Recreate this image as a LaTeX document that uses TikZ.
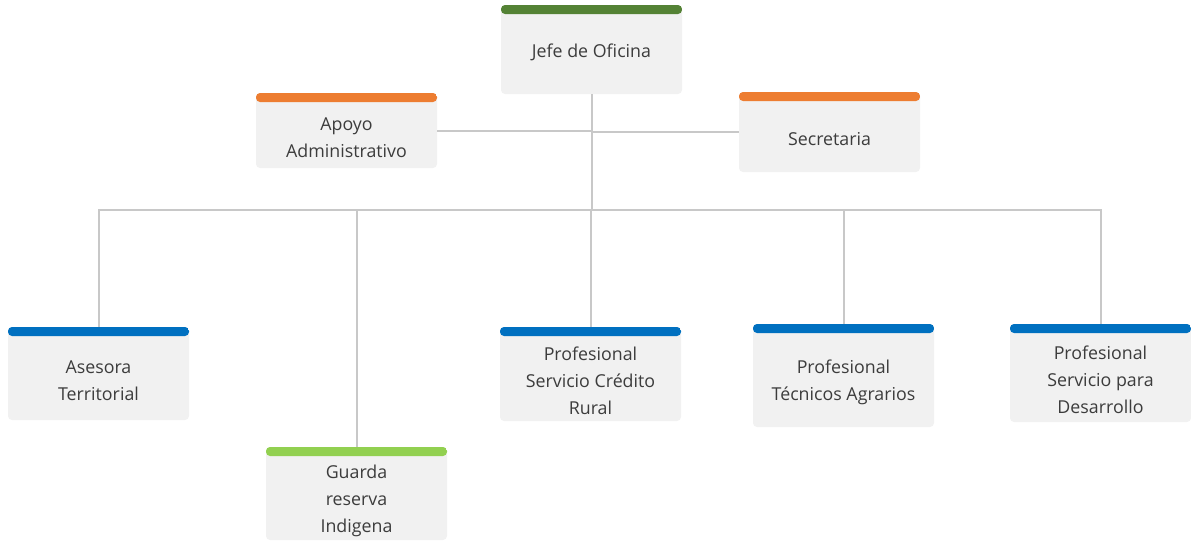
\documentclass[tikz,border=0pt]{standalone}
\usepackage{fontspec}
\setmainfont{Open Sans}
\definecolor{boxfill}{HTML}{F1F1F1}
\definecolor{linkgray}{HTML}{C8C8C8}
\definecolor{txtgray}{HTML}{3C3C3C}
\definecolor{topgreen}{HTML}{548235}
\definecolor{orangebar}{HTML}{ED7D31}
\definecolor{bluebar}{HTML}{0070C0}
\definecolor{limebar}{HTML}{92D050}
\tikzset{
  orgbox/.style 2 args={
    draw=none, fill=boxfill, rounded corners=4pt, inner sep=0pt,
    minimum width=#1, minimum height=#2
  },
  bar/.style={
    path picture={\fill[#1] (path picture bounding box.north west)
      rectangle ([yshift=-9pt]path picture bounding box.north east);}
  },
  orgtext/.style={
    align=center, text=txtgray, inner sep=0pt,
    font=\fontsize{17.8}{27}\selectfont
  },
  link/.style={draw=linkgray, line width=2pt}
}
% one box: [text drop], name, left, top, right, bottom, bar colour, text
\newcommand{\orgunit}[8][-7pt]{%
  \node[orgbox={(#5-#3)*1pt}{(#6-#4)*1pt}, bar=#7] (#2)
    at ({(#3+#5)/2},{(#4+#6)/2}) {};
  \node[orgtext] (#2-t) at ([yshift=#1]#2.center) {#8};
}
\begin{document}
\begin{tikzpicture}[x=1pt,y=-1pt]
\useasboundingbox (0,0) rectangle (1191,541);

\orgunit[-3pt]{jefe}{501}{5}{682}{94}{topgreen}{Jefe de Oficina}
\orgunit{apoyo}{256}{93}{437}{168}{orangebar}{Apoyo\\Administrativo}
\orgunit{secre}{739}{92}{920}{172}{orangebar}{Secretaria}
\orgunit{asesora}{8}{327}{189}{420}{bluebar}{Asesora\\Territorial}
\orgunit{guarda}{266}{447}{447}{540}{limebar}{Guarda\\reserva\\Indigena}
\orgunit{credito}{500}{327}{681}{421}{bluebar}{Profesional\\Servicio Crédito\\Rural}
\orgunit{tecnicos}{753}{324}{934}{427}{bluebar}{Profesional\\Técnicos Agrarios}
\orgunit{desarrollo}{1010}{324}{1191}{422}{bluebar}{Profesional\\Servicio para\\Desarrollo}

\coordinate (bus) at (jefe.south |- 0,210);

% staff links
\draw[link] (jefe.south) -- (bus);
\draw[link] (apoyo.east) -- (apoyo.east -| jefe.south);
\draw[link] (secre.west) -- (secre.west -| jefe.south);

% subordinate links
\foreach \n in {asesora,guarda,credito,tecnicos,desarrollo}
  \draw[link] (bus) -| (\n.north);
\end{tikzpicture}
\end{document}
